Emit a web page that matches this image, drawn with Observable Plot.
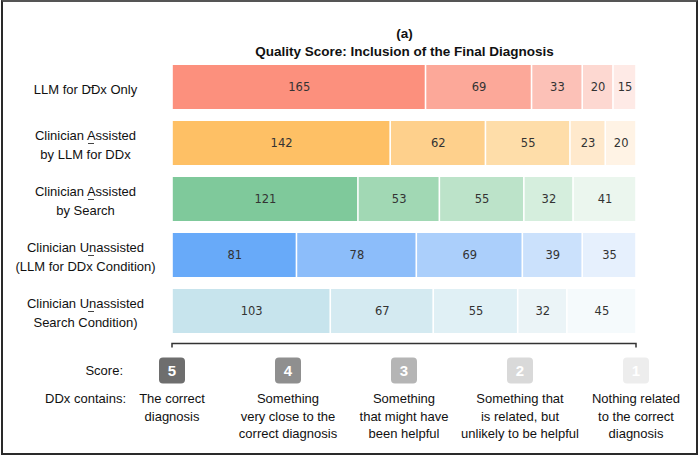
<!DOCTYPE html>
<html>
<head>
<meta charset="utf-8">
<script src="https://cdn.jsdelivr.net/npm/d3@7"></script>
<script src="https://cdn.jsdelivr.net/npm/@observablehq/plot@0.6"></script>
<style>
  html, body { margin: 0; padding: 0; background: #fff; }
  #wrap { position: relative; width: 700px; height: 456px; overflow: hidden; }
  #frame { position: absolute; left: 1px; top: 0px; width: 693px; height: 451px; border: 2px solid #2a2a2a; border-top-color: #555; pointer-events: none; }
</style>
</head>
<body>
<div id="wrap"><div id="frame"></div></div>
<script>
// ---- data ----
const rows = [
  "LLM for DDx Only",
  "Clinician Assisted\nby LLM for DDx",
  "Clinician Assisted\nby Search",
  "Clinician Unassisted\n(LLM for DDx Condition)",
  "Clinician Unassisted\nSearch Condition)"
];
const scores = [5, 4, 3, 2, 1];
const llmOnly       = [165, 69, 33, 20, 15];
const assistedLLM   = [142, 62, 55, 23, 20];
const assistedSearch= [121, 53, 55, 32, 41];
const unassistedLLM = [81, 78, 69, 39, 35];
const unassistedSearch = [103, 67, 55, 32, 45];
const seriesValues = [llmOnly, assistedLLM, assistedSearch, unassistedLLM, unassistedSearch];

const scoreDescriptions = [
  "The correct\ndiagnosis",
  "Something\nvery close to the\ncorrect diagnosis",
  "Something\nthat might have\nbeen helpful",
  "Something that\nis related, but\nunlikely to be helpful",
  "Nothing related\nto the correct\ndiagnosis"
];

// ---- styles ----
const palettes = [
  ["#fc907d", "#fca899", "#fcc1b7", "#fdd8d1", "#feeae6"],
  ["#fec065", "#fed08c", "#fedda9", "#ffe9cc", "#fff3e5"],
  ["#7fc99b", "#a1d8b4", "#bce3c9", "#d5eedd", "#ebf6ee"],
  ["#68aaf9", "#8cbdfa", "#abcffb", "#cbe1fc", "#e6f0fd"],
  ["#c7e4ed", "#d4eaf1", "#e0f0f5", "#ebf4f7", "#f5fafc"]
];
const boxColors = ["#6e6e6e", "#8f8f8f", "#b5b5b5", "#d9d9d9", "#ededed"];
const sans = "'Liberation Sans', Arial, Helvetica, sans-serif";

const data = [];
rows.forEach((row, i) => {
  seriesValues[i].forEach((v, j) => {
    data.push({row, score: scores[j], value: v, color: palettes[i][j]});
  });
});
const total = d3.max(seriesValues, s => d3.sum(s));

const plot = Plot.plot({
  width: 700,
  height: 456,
  marginLeft: 172,
  marginRight: 64,
  marginTop: 64,
  marginBottom: 122,
  style: {fontFamily: sans, fontSize: "13px", color: "#111", background: "transparent"},
  x: {domain: [0, total], axis: null},
  y: {domain: rows, paddingInner: 0.221, paddingOuter: 0, label: null},
  color: {type: "identity"},
  marks: [
    Plot.barX(data, Plot.stackX({x: "value", y: "row", fill: "color", insetLeft: 0.8, insetRight: 0.8})),
    Plot.text(data, Plot.stackX({x: "value", y: "row", text: d => String(d.value), fill: "#333",
      fontFamily: "'DejaVu Sans', Verdana, sans-serif", fontSize: 11.5})),
    Plot.axisY({tickSize: 6, tickPadding: 3, textAnchor: "middle", dx: -78, lineHeight: 1.5, fontSize: 13, stroke: "#444", label: null}),
    Plot.text(["(a)"], {frameAnchor: "top", dy: -36, fontWeight: "bold", fontSize: 13.5}),
    Plot.text(["Quality Score: Inclusion of the Final Diagnosis"], {frameAnchor: "top", dy: -18, fontWeight: "bold", fontSize: 13.5})
  ]
});

// ---- legend (appended into the Plot SVG, positioned from Plot's x scale) ----
const xs = plot.scale("x");
const svg = d3.select(plot);
const g = svg.append("g").attr("font-family", sans);
const x0 = xs.apply(0), x1 = xs.apply(total);
g.append("path")
  .attr("d", `M${x0},347.5V343.5H${x1}V347.5`)
  .attr("fill", "none").attr("stroke", "#333").attr("stroke-width", 1.5);

const step = total / (scores.length - 1);
g.append("text").attr("x", 123).attr("y", 375).attr("text-anchor", "end").attr("font-size", 13).attr("fill", "#111").text("Score:");
g.append("text").attr("x", 126).attr("y", 403).attr("text-anchor", "end").attr("font-size", 13).attr("fill", "#111").text("DDx contains:");

scores.forEach((s, i) => {
  const cx = xs.apply(i * step);
  g.append("rect").attr("x", cx - 13).attr("y", 357.5).attr("width", 26).attr("height", 26)
    .attr("rx", 4).attr("fill", boxColors[i]);
  g.append("text").attr("x", cx).attr("y", 376).attr("text-anchor", "middle")
    .attr("font-size", 15).attr("font-weight", "bold").attr("fill", "#fff").text(String(s));
  const lines = scoreDescriptions[i].split("\n");
  const t = g.append("text").attr("text-anchor", "middle").attr("font-size", 13).attr("fill", "#111");
  lines.forEach((ln, k) => {
    t.append("tspan").attr("x", cx).attr("y", 403 + k * 17.5).text(ln);
  });
});

document.getElementById("wrap").prepend(plot);
</script>
</body>
</html>
